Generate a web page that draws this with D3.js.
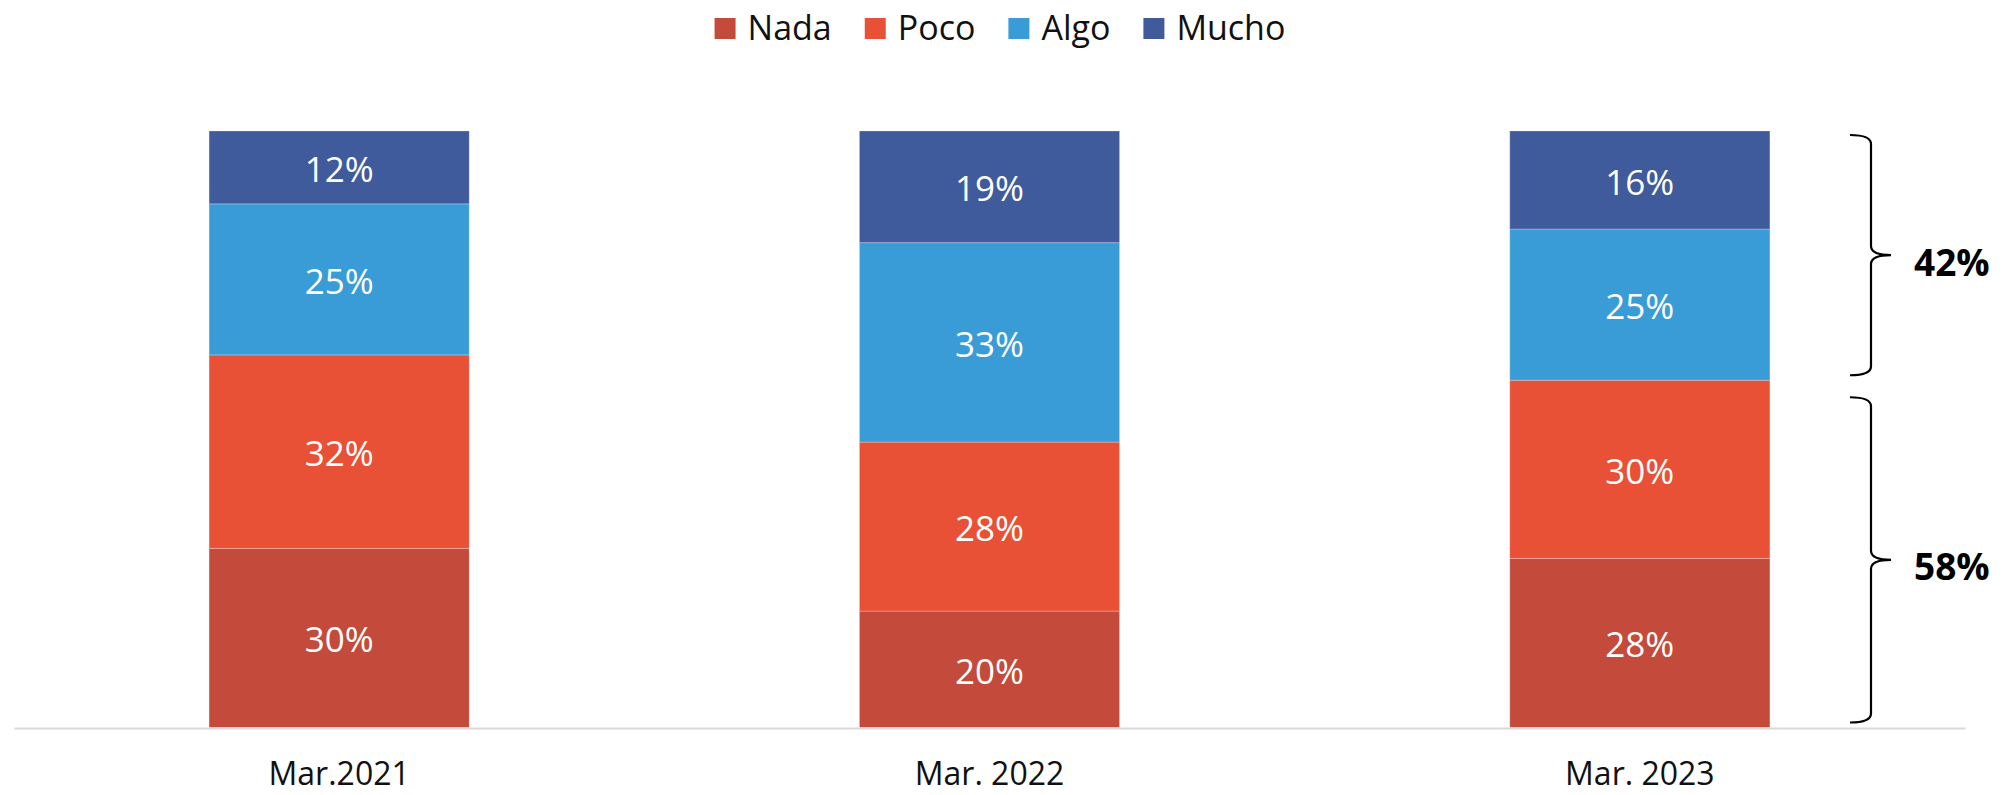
<!DOCTYPE html>
<meta charset="utf-8">

<style>

  html, body {
    margin: 0;
    width: 100%;
    background-color: #fff;
  }

  text {
    font-family: "Open Sans", sans-serif;
  }

  #svg_main {
    display: block;
  }

</style>
<svg id="svg_main" width="2013" height="795"></svg>

<script src="https://cdn.jsdelivr.net/npm/d3@7"></script>
<script>

  // values (% of each bar)
  let categories = ["Mar.2021", "Mar. 2022", "Mar. 2023"]
  let seriesNames = ["Nada", "Poco", "Algo", "Mucho"]
  let nada = [30.0, 19.5, 28.3]
  let poco = [32.4, 28.3, 29.8]
  let algo = [25.3, 33.4, 25.3]
  let mucho = [12.2, 18.7, 16.4]
  let seriesColors = ["#c44a3b", "#e85136", "#3a9cd6", "#3f5b9c"]
  let braceLabels = ["42%", "58%"]

  let rows = categories.map((c, i) => ({
    cat: c, Nada: nada[i], Poco: poco[i], Algo: algo[i], Mucho: mucho[i]
  }))

  let svg = d3.select("svg")

  let x = d3.scaleBand()
    .domain(categories)
    .range([14, 1965])
    .paddingInner(0.6)
    .paddingOuter(0.3)

  let y = d3.scaleLinear()
    .domain([0, 1])
    .range([727.5, 131])

  let color = d3.scaleOrdinal().domain(seriesNames).range(seriesColors)

  let stacked = d3.stack()
    .keys(seriesNames)
    .offset(d3.stackOffsetExpand)(rows)

  // bars
  let layers = svg.append("g")
    .selectAll("g")
    .data(stacked)
    .join("g")
    .attr("fill", d => color(d.key))

  layers.selectAll("rect")
    .data(d => d.map(p => Object.assign(p, { key: d.key })))
    .join("rect")
    .attr("x", d => x(d.data.cat))
    .attr("width", x.bandwidth())
    .attr("y", d => y(d[1]))
    .attr("height", d => y(d[0]) - y(d[1]))
    .attr("stroke", "rgba(255,255,255,0.25)")
    .attr("stroke-width", 1)

  layers.selectAll("text")
    .data(d => d)
    .join("text")
    .attr("x", d => x(d.data.cat) + x.bandwidth() / 2)
    .attr("y", d => (y(d[0]) + y(d[1])) / 2 + 1)
    .attr("text-anchor", "middle")
    .attr("dominant-baseline", "central")
    .attr("fill", "#fff")
    .attr("font-size", 35)
    .text(d => Math.round(d.data[d.key]) + "%")

  // x axis
  let xAxis = svg.append("g")
    .attr("transform", "translate(0," + 728 + ")")
    .call(d3.axisBottom(x).tickSize(0).tickPadding(0))

  xAxis.select(".domain")
    .attr("stroke", "#d9d9d9")
    .attr("stroke-width", 2)

  xAxis.selectAll("text")
    .attr("y", 57)
    .attr("dy", 0)
    .attr("font-size", 32)
    .attr("font-family", "'Open Sans', sans-serif")
    .attr("fill", "#111")

  // braces on the last bar
  let last = stacked.map(s => s[s.length - 1])
  let split = last[1][1]  // top of Poco
  let braces = [
    { top: y(1) + 4, bottom: y(split) - 5, label: braceLabels[0] },
    { top: y(split) + 17, bottom: y(0) - 5, label: braceLabels[1] }
  ]

  let xl = 1850, xv = 1871, xt = 1891, r = 9

  function bracePath(b) {
    let tip = (b.top + b.bottom) / 2
    return "M" + xl + "," + b.top +
      "Q" + xv + "," + b.top + " " + xv + "," + (b.top + r) +
      "L" + xv + "," + (tip - r) +
      "Q" + xv + "," + tip + " " + xt + "," + tip +
      "Q" + xv + "," + tip + " " + xv + "," + (tip + r) +
      "L" + xv + "," + (b.bottom - r) +
      "Q" + xv + "," + b.bottom + " " + xl + "," + b.bottom
  }

  let braceG = svg.append("g")

  braceG.selectAll("path")
    .data(braces)
    .join("path")
    .attr("d", bracePath)
    .attr("fill", "none")
    .attr("stroke", "#000")
    .attr("stroke-width", 2.2)

  braceG.selectAll("text")
    .data(braces)
    .join("text")
    .attr("x", 1914)
    .attr("y", d => (d.top + d.bottom) / 2 + 6)
    .attr("dominant-baseline", "central")
    .attr("font-size", 37)
    .attr("font-weight", "bold")
    .attr("fill", "#000")
    .text(d => d.label)

  // legend
  let legend = svg.append("g")
  let items = legend.selectAll("g")
    .data(seriesNames)
    .join("g")

  items.append("rect")
    .attr("y", 18)
    .attr("width", 21)
    .attr("height", 21)
    .attr("fill", d => color(d))

  items.append("text")
    .attr("x", 33)
    .attr("y", 40)
    .attr("font-size", 34)
    .attr("fill", "#111")
    .text(d => d)

  let widths = []
  items.select("text").each(function() { widths.push(this.getComputedTextLength() + 33) })
  let gap = 33
  let total = d3.sum(widths) + gap * (widths.length - 1)
  let cx = 1000
  let pos = cx - total / 2
  items.attr("transform", (d, i) => {
    let t = "translate(" + pos + ",0)"
    pos += widths[i] + gap
    return t
  })

</script>
